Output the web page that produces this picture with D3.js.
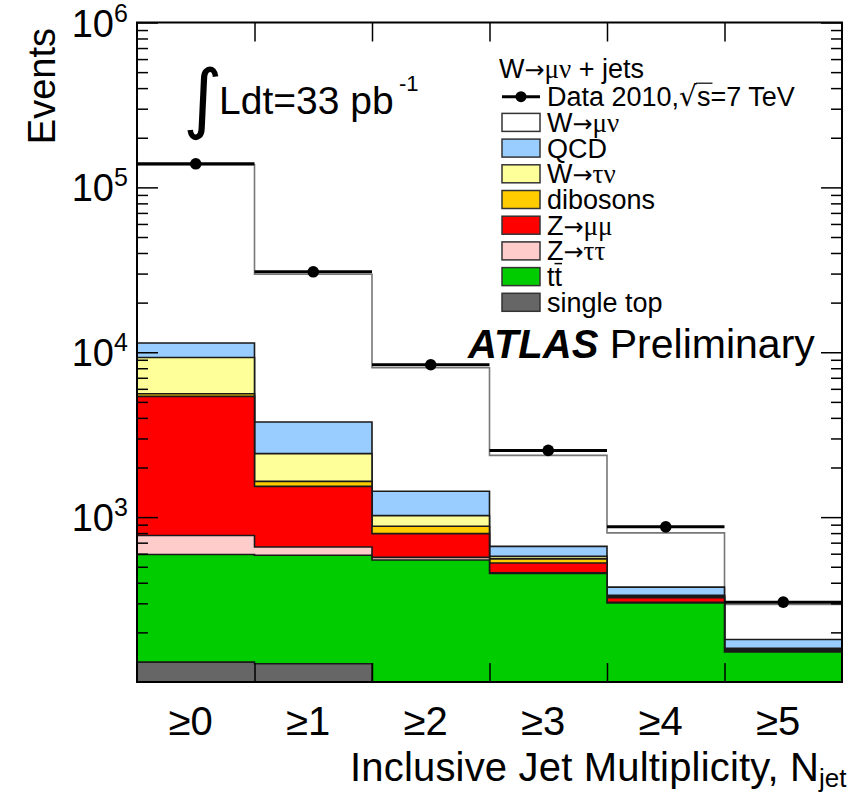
<!DOCTYPE html>
<html><head><meta charset="utf-8">
<script src="https://cdn.jsdelivr.net/npm/d3@7"></script>
<style>html,body{margin:0;padding:0;background:#fff;} svg{display:block;}</style>
</head><body>
<svg id="c" width="852" height="794"></svg>
<script>
// ---- data ----
const bins = ["≥0", "≥1", "≥2", "≥3", "≥4", "≥5"];
const dataVals = [139000, 30750, 8400, 2540, 873, 305];
const singleTop = [132, 129, 95, 60, 30, 12];
const ttbar = [461, 458, 455, 395, 272, 140];
const zTauTau = [180, 72, 20, 5, 2, 1];
const zMuMu = [4627, 878, 224, 67, 21, 3];
const dibosons = [200, 111, 86, 31, 7, 2];
const wTauNu = [3700, 779, 141, 20, 4, 2];
const qcd = [2070, 1349, 413, 87, 40, 21];
const wMuNu = [125630, 25924, 6626, 1705, 426, 114];
const yMajorTicks = [1e3, 1e4, 1e5, 1e6];
const yMajorExp = ["3", "4", "5", "6"];

const keys = ["st", "tt", "ztt", "zmm", "dib", "wtn", "qcd", "wmn"];
const series = {st: singleTop, tt: ttbar, ztt: zTauTau, zmm: zMuMu, dib: dibosons, wtn: wTauNu, qcd: qcd, wmn: wMuNu};
const colors = {st: "#666666", tt: "#00cc00", ztt: "#ffcccc", zmm: "#ff0000", dib: "#ffcc00", wtn: "#ffff99", qcd: "#99ccff", wmn: "#ffffff"};

const L = 137, R = 842, T = 22.5, B = 682;
const svg = d3.select("#c");
const SANS = "'Liberation Sans', Arial, Helvetica, sans-serif";
const SERIF = "'Liberation Serif', 'DejaVu Serif', serif";
const ARROW = "'DejaVu Sans', sans-serif";

const x = d3.scaleBand().domain(bins).range([L, R]).padding(0);
const xe = d3.scaleLinear().domain([0, bins.length]).range([L, R]);
const y = d3.scaleLog().domain([100, 1e6]).range([B, T]).clamp(true);

const rows = bins.map((b, i) => { const o = {bin: b}; keys.forEach(k => o[k] = series[k][i]); return o; });
const stacked = d3.stack().keys(keys)(rows);

svg.append("defs").append("clipPath").attr("id", "pc")
  .append("rect").attr("x", L).attr("y", T).attr("width", R - L).attr("height", B - T);
const g = svg.append("g").attr("clip-path", "url(#pc)");

const line = d3.line();
// draw cumulative histograms from the top layer downwards (ROOT THStack style)
stacked.slice().reverse().forEach(s => {
  const pts = [[L, B + 5]];
  s.forEach((d, i) => {
    const yy = y(Math.max(d[1], 1));
    pts.push([x(bins[i]), yy]);
    pts.push([x(bins[i]) + x.bandwidth(), yy]);
  });
  pts.push([R, B + 5]);
  g.append("path").attr("d", line(pts) + "Z")
    .attr("fill", colors[s.key])
    .attr("stroke", s.key === "wmn" ? "#777" : "#1a1a1a")
    .attr("stroke-width", 1.6);
});

// data
const dg = svg.append("g");
dataVals.forEach((v, i) => {
  dg.append("line").attr("x1", x(bins[i])).attr("x2", x(bins[i]) + x.bandwidth())
    .attr("y1", y(v)).attr("y2", y(v)).attr("stroke", "#000").attr("stroke-width", 3);
  dg.append("circle").attr("cx", x(bins[i]) + x.bandwidth() / 2).attr("cy", y(v)).attr("r", 5.8).attr("fill", "#000");
});

// frame
svg.append("rect").attr("x", L).attr("y", T).attr("width", R - L).attr("height", B - T)
  .attr("fill", "none").attr("stroke", "#000").attr("stroke-width", 2);

// y ticks
const minor = [];
for (let e = 2; e <= 5; e++) for (let m = 2; m <= 9; m++) minor.push(m * Math.pow(10, e));
function styleAxis(sel) { sel.select(".domain").remove(); sel.selectAll("line").attr("stroke", "#000").attr("stroke-width", 1.5); sel.selectAll("text").remove(); }
svg.append("g").attr("transform", `translate(${L},0)`).call(d3.axisLeft(y).tickValues(yMajorTicks).tickSize(-21).tickFormat("")).call(styleAxis);
svg.append("g").attr("transform", `translate(${L},0)`).call(d3.axisLeft(y).tickValues(minor).tickSize(-11).tickFormat("")).call(styleAxis);
svg.append("g").attr("transform", `translate(${R},0)`).call(d3.axisRight(y).tickValues(yMajorTicks).tickSize(-21).tickFormat("")).call(styleAxis);
svg.append("g").attr("transform", `translate(${R},0)`).call(d3.axisRight(y).tickValues(minor).tickSize(-11).tickFormat("")).call(styleAxis);
// x ticks
const edges = d3.range(1, bins.length);
svg.append("g").attr("transform", `translate(0,${B})`).call(d3.axisBottom(xe).tickValues(edges).tickSize(-19).tickFormat("")).call(styleAxis);
svg.append("g").attr("transform", `translate(0,${T})`).call(d3.axisTop(xe).tickValues(edges).tickSize(-19).tickFormat("")).call(styleAxis);

// y tick labels
yMajorTicks.forEach((v, i) => {
  svg.append("text").attr("font-family", SANS).attr("font-size", 38).attr("x", 114).attr("y", y(v) + 14)
    .attr("text-anchor", "end").text("10");
  svg.append("text").attr("font-family", SANS).attr("font-size", 25).attr("x", 114).attr("y", y(v) - 1).text(yMajorExp[i]);
});
// x tick labels
bins.forEach(b => {
  svg.append("text").attr("font-family", SANS).attr("font-size", 40).attr("text-anchor", "middle")
    .attr("x", x(b) + x.bandwidth() / 2 - 5).attr("y", 735).text(b);
});

// axis titles
svg.append("text").attr("font-family", SANS).attr("font-size", 38).attr("text-anchor", "end")
  .attr("transform", "translate(55,28) rotate(-90)").text("Events");
svg.append("text").attr("font-family", SANS).attr("font-size", 40).attr("text-anchor", "end")
  .attr("x", 819).attr("y", 781).attr("textLength", 469).text("Inclusive Jet Multiplicity, N");
svg.append("text").attr("font-family", SANS).attr("font-size", 26).attr("x", 819).attr("y", 787).text("jet");

// luminosity
svg.append("text").attr("font-family", "'DejaVu Sans', sans-serif").attr("font-size", 76).attr("x", 183).attr("y", 124).text("∫");
svg.append("text").attr("font-family", SANS).attr("font-size", 39).attr("x", 219).attr("y", 114).text("Ldt=33 pb");
svg.append("text").attr("font-family", SANS).attr("font-size", 22).attr("x", 399).attr("y", 91).text("-1");

// ATLAS Preliminary
const at = svg.append("text").attr("font-family", SANS).attr("font-size", 40).attr("x", 468).attr("y", 358);
at.append("tspan").attr("font-weight", "bold").attr("font-style", "italic").text("ATLAS");
at.append("tspan").attr("font-size", 41).text(" Preliminary");

// legend
const LF = 27;
function rich(xp, yp, segs) {
  const t = svg.append("text").attr("x", xp).attr("y", yp).attr("font-size", LF).attr("font-family", SANS).attr("fill", "#000");
  segs.forEach(s => {
    const ts = t.append("tspan").attr("font-family", s[1] === 2 ? ARROW : (s[1] ? SERIF : SANS)).text(s[0]);
    if (s[1] === 2) ts.attr("font-size", 24);
  });
  return t;
}
rich(499, 78, [["W", 0], ["→", 2], ["μν", 1], [" + jets", 0]]);
const rowY = i => 96.7 + i * 25.7;
// data entry
svg.append("line").attr("x1", 502).attr("x2", 540).attr("y1", rowY(0)).attr("y2", rowY(0)).attr("stroke", "#000").attr("stroke-width", 3);
svg.append("circle").attr("cx", 521).attr("cy", rowY(0)).attr("r", 5.5).attr("fill", "#000");
const dt = svg.append("text").attr("x", 547).attr("y", rowY(0) + 9.5).attr("font-size", LF).attr("font-family", SANS);
dt.append("tspan").text("Data 2010,");
dt.append("tspan").attr("font-family", ARROW).attr("font-size", 28).text("√");
dt.append("tspan").text("s");
dt.append("tspan").text("=7 TeV");
{
  const n = dt.node();
  const idx = "Data 2010,√".length;
  const p0 = n.getEndPositionOfChar(idx - 1), p1 = n.getEndPositionOfChar(idx);
  svg.append("line").attr("x1", p0.x - 1).attr("x2", p1.x + 2).attr("y1", rowY(0) - 13.5).attr("y2", rowY(0) - 13.5).attr("stroke", "#000").attr("stroke-width", 1.2);
}
const legendEntries = [
  {k: "wmn", segs: [["W", 0], ["→", 2], ["μν", 1]]},
  {k: "qcd", segs: [["QCD", 0]]},
  {k: "wtn", segs: [["W", 0], ["→", 2], ["τν", 1]]},
  {k: "dib", segs: [["dibosons", 0]]},
  {k: "zmm", segs: [["Z", 0], ["→", 2], ["μμ", 1]]},
  {k: "ztt", segs: [["Z", 0], ["→", 2], ["ττ", 1]]},
  {k: "tt", segs: [["tt", 0]]},
  {k: "st", segs: [["single top", 0]]}
];
legendEntries.forEach((e, i) => {
  const cy = rowY(i + 1);
  svg.append("rect").attr("x", 502).attr("y", cy - 9).attr("width", 38).attr("height", 18)
    .attr("fill", colors[e.k]).attr("stroke", "#333").attr("stroke-width", 1.5);
  const t = rich(547, cy + 9.5, e.segs);
  if (e.k === "tt") {
    const n = t.node();
    const a = n.getStartPositionOfChar(1), b2 = n.getEndPositionOfChar(1);
    svg.append("line").attr("x1", a.x).attr("x2", b2.x).attr("y1", cy - 13).attr("y2", cy - 13).attr("stroke", "#000").attr("stroke-width", 1.5);
  }
});
</script>
</body></html>
